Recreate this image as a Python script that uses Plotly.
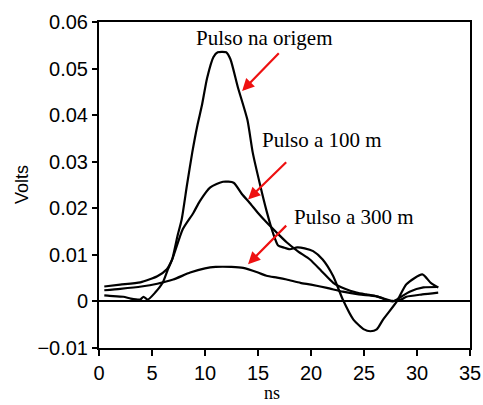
import plotly.graph_objects as go

# ---- data (ns, Volts) ----
t_origem = [0.5, 1.0, 2.3, 3.0, 3.9, 4.2, 4.6, 5.3, 6.0, 6.5, 6.9, 7.4, 7.8, 8.3, 8.8, 9.3, 9.7,
            10.2, 10.8, 11.2, 12.0, 12.4, 13.1, 14.0, 14.5, 15.2, 15.8, 16.4, 16.9, 17.4, 18.0,
            18.7, 19.4, 20.2, 21.1, 22.1, 23.0, 24.0, 25.0, 25.6, 26.2, 26.8, 28.1, 29.0, 30.5,
            31.3, 32.0]
v_origem = [0.0013, 0.0012, 0.0010, 0.0006, 0.0004, 0.0010, 0.0004, 0.0019, 0.0040, 0.0069,
            0.0090, 0.0140, 0.0176, 0.0250, 0.0320, 0.0380, 0.0420, 0.0480, 0.0525, 0.0535,
            0.0535, 0.0520, 0.0460, 0.0390, 0.0320, 0.0250, 0.0195, 0.0148, 0.0120, 0.0116,
            0.0112, 0.0116, 0.0114, 0.0108, 0.0090, 0.0054, 0.0004, -0.0039, -0.0060, -0.0064,
            -0.0060, -0.0039, 0.0000, 0.0037, 0.0058, 0.0040, 0.0030]

t_100m = [0.5, 2.0, 3.9, 5.5, 6.4, 6.9, 7.9, 8.9, 9.5, 10.5, 11.7, 12.7, 13.5, 14.2, 15.0, 15.8,
          16.8, 17.7, 18.8, 19.9, 21.0, 22.1, 23.2, 24.3, 25.2, 26.2, 27.7, 28.5, 29.3, 30.6,
          32.0]
v_100m = [0.0032, 0.0036, 0.0041, 0.0054, 0.0069, 0.0090, 0.0155, 0.0190, 0.0215, 0.0245,
          0.0257, 0.0255, 0.0230, 0.0212, 0.0190, 0.0170, 0.0147, 0.0127, 0.0107, 0.0090,
          0.0065, 0.0040, 0.0027, 0.0019, 0.0015, 0.0011, 0.0000, 0.0010, 0.0021, 0.0030,
          0.0031]

t_300m = [0.5, 2.0, 4.0, 5.5, 7.0, 8.6, 10.0, 11.0, 12.5, 13.6, 15.0, 15.8, 16.8, 17.7, 19.0,
          20.0, 21.5, 23.0, 24.5, 26.2, 27.7, 28.5, 29.0, 30.5, 32.0]
v_300m = [0.0024, 0.0027, 0.0032, 0.0038, 0.0047, 0.0062, 0.0071, 0.0074, 0.0074, 0.0072,
          0.0062, 0.0055, 0.0051, 0.0047, 0.0040, 0.0036, 0.0029, 0.0021, 0.0015, 0.0011,
          0.0001, 0.0004, 0.0010, 0.0015, 0.0019]

x_ticks = [0, 5, 10, 15, 20, 25, 30, 35]
y_ticks = [-0.01, 0, 0.01, 0.02, 0.03, 0.04, 0.05, 0.06]
y_ticklabels = ["\u22120.01", "0", "0.01", "0.02", "0.03", "0.04", "0.05", "0.06"]

labels = ["Pulso na origem", "Pulso a 100 m", "Pulso a 300 m"]
label_pos = [(15.6, 0.0565), (21.0, 0.0347), (24.1, 0.0181)]
arrow_tail = [(17.1, 0.0536), (17.8, 0.0302), (17.8, 0.0166)]
arrow_tip = [(13.5, 0.0452), (14.06, 0.0219), (14.06, 0.0080)]

fig = go.Figure()
for tt, vv in [(t_origem, v_origem), (t_100m, v_100m), (t_300m, v_300m)]:
    fig.add_trace(go.Scatter(x=tt, y=vv, mode="lines", line_shape="spline",
                             line=dict(color="black", width=2.2, smoothing=0.6),
                             showlegend=False, hoverinfo="skip"))

serif = "Liberation Serif, Times New Roman, serif"
sans = "Liberation Sans, Arial, sans-serif"

for txt, (lx, ly) in zip(labels, label_pos):
    fig.add_annotation(x=lx, y=ly, text=txt, showarrow=False,
                       font=dict(family=serif, size=21, color="black"))
for (ax, ay), (tx, ty) in zip(arrow_tail, arrow_tip):
    fig.add_annotation(x=tx, y=ty, ax=ax, ay=ay, axref="x", ayref="y", text="",
                       showarrow=True, arrowhead=2, arrowsize=1.1, arrowwidth=2.2,
                       arrowcolor="#ee1111")

fig.add_annotation(x=0.0, y=0.5, xref="paper", yref="paper", xshift=-77,
                   xanchor="center", yanchor="middle",
                   text="Volts", textangle=-90, showarrow=False,
                   font=dict(family=sans, size=18, color="black"))
fig.add_annotation(x=0.465, y=-0.138, xref="paper", yref="paper", text="ns",
                   showarrow=False, xanchor="center", yanchor="middle",
                   font=dict(family=serif, size=18, color="black"))

fig.update_xaxes(range=[0, 35], tickvals=x_ticks, ticks="outside", ticklen=6, tickwidth=2,
                 tickcolor="black", showline=True, linecolor="black", linewidth=2,
                 mirror=True, showgrid=False, zeroline=False, automargin=False,
                 tickfont=dict(family=sans, size=20, color="black"))
fig.update_yaxes(range=[-0.01, 0.06], tickvals=y_ticks, ticktext=y_ticklabels,
                 ticks="outside", ticklen=5, tickwidth=2, tickcolor="black",
                 showline=True, linecolor="black", linewidth=2, mirror=True,
                 showgrid=False, zeroline=True, zerolinecolor="black", zerolinewidth=2,
                 automargin=False,
                 tickfont=dict(family=sans, size=20, color="black"))

fig.update_layout(width=483, height=405, margin=dict(l=99, r=13, t=22, b=57, autoexpand=False),
                  plot_bgcolor="white", paper_bgcolor="white")
fig.write_html("out.html", config={"displayModeBar": False},
               post_script="document.body.style.margin='0';document.body.style.overflow='hidden';")
